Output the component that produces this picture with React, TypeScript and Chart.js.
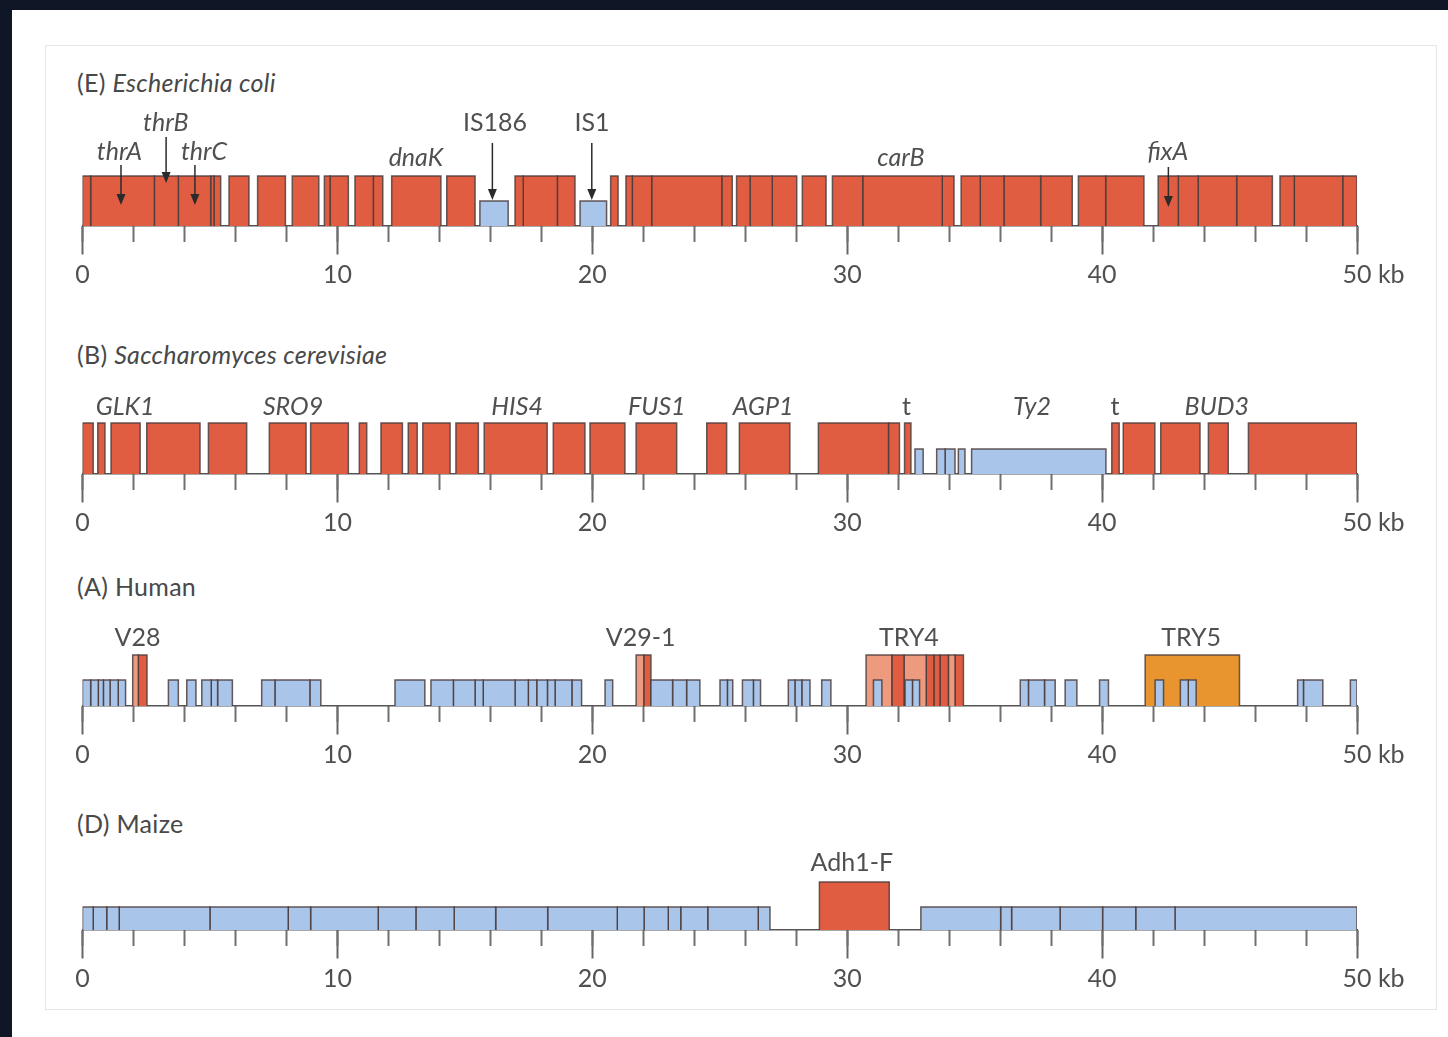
import React, { useEffect, useRef } from "react";
import { Chart, registerables } from "chart.js";

Chart.register(...registerables);

type Gene = [number, number, string];

// ---------------- data ----------------
const axisMin = 0;
const axisMax = 50;
const majorStep = 10;
const minorStep = 2;
const unitLabel = "kb";

// (E) Escherichia coli
const ecoliGenes: Gene[] = [
  [0, 0.32, "gene"], [0.32, 2.82, "gene"], [2.82, 3.76, "gene"], [3.76, 5.03, "gene"], [5.03, 5.16, "gene"], [5.16, 5.42, "gene"],
  [5.75, 6.53, "gene"],
  [6.87, 7.96, "gene"],
  [8.23, 9.27, "gene"],
  [9.49, 9.71, "gene"], [9.71, 10.43, "gene"],
  [10.69, 11.41, "gene"], [11.41, 11.78, "gene"],
  [12.13, 14.06, "gene"],
  [14.29, 15.4, "gene"],
  [15.59, 16.7, "repeat"],
  [16.97, 17.29, "gene"], [17.29, 18.63, "gene"], [18.63, 19.32, "gene"],
  [19.52, 20.56, "repeat"],
  [20.72, 21.01, "gene"],
  [21.32, 21.57, "gene"], [21.57, 22.33, "gene"], [22.33, 25.08, "gene"], [25.08, 25.49, "gene"],
  [25.66, 26.19, "gene"], [26.19, 27.06, "gene"], [27.06, 28.02, "gene"],
  [28.24, 29.17, "gene"],
  [29.42, 30.61, "gene"], [30.61, 33.73, "gene"], [33.73, 34.19, "gene"],
  [34.47, 35.22, "gene"], [35.22, 36.15, "gene"], [36.15, 37.59, "gene"], [37.59, 38.83, "gene"],
  [39.07, 40.14, "gene"], [40.14, 41.64, "gene"],
  [42.2, 42.99, "gene"], [42.99, 43.77, "gene"], [43.77, 45.28, "gene"], [45.28, 46.68, "gene"],
  [46.98, 47.54, "gene"], [47.54, 49.44, "gene"], [49.44, 50.0, "gene"],
];
const ecoliLabelText = ["thrA", "thrB", "thrC", "dnaK", "IS186", "IS1", "carB", "fixA"];
const ecoliLabelKb = [1.45, 3.27, 4.77, 13.08, 16.18, 19.99, 32.11, 42.58];
const ecoliLabelTier = [1, 2, 1, 0, 2, 2, 0, 1];
const ecoliLabelItalic = [true, true, true, true, false, false, true, true];
const ecoliArrowKb = [1.51, 3.28, 4.41, 16.08, 19.98, 42.6];

// (B) Saccharomyces cerevisiae
const yeastGenes: Gene[] = [
  [0, 0.42, "gene"], [0.6, 0.88, "gene"], [1.12, 2.26, "gene"], [2.52, 4.61, "gene"], [4.94, 6.44, "gene"],
  [7.33, 8.77, "gene"], [8.95, 10.43, "gene"], [10.86, 11.15, "gene"], [11.71, 12.55, "gene"], [12.78, 13.13, "gene"],
  [13.35, 14.42, "gene"], [14.65, 15.53, "gene"], [15.76, 18.23, "gene"], [18.47, 19.71, "gene"], [19.91, 21.28, "gene"],
  [21.72, 23.31, "gene"], [24.49, 25.27, "gene"], [25.77, 27.75, "gene"], [28.87, 31.62, "gene"], [31.62, 32.05, "gene"],
  [32.25, 32.5, "gene"],
  [32.66, 32.98, "repeat"], [33.51, 33.84, "repeat"], [33.84, 34.23, "repeat"], [34.36, 34.62, "repeat"], [34.88, 40.15, "repeat"],
  [40.38, 40.67, "gene"], [40.83, 42.07, "gene"], [42.3, 43.84, "gene"], [44.17, 44.95, "gene"], [45.74, 50.0, "gene"],
];
const yeastLabelText = ["GLK1", "SRO9", "HIS4", "FUS1", "AGP1", "t", "Ty2", "t", "BUD3"];
const yeastLabelKb = [1.67, 8.26, 17.05, 22.53, 26.7, 32.33, 37.25, 40.51, 44.5];
const yeastLabelTier = [0, 0, 0, 0, 0, 0, 0, 0, 0];
const yeastLabelItalic = [true, true, true, true, true, false, true, false, true];

// (A) Human
const humanGenes: Gene[] = [
  [0, 0.32, "repeat"], [0.32, 0.62, "repeat"], [0.62, 0.82, "repeat"], [0.82, 1.08, "repeat"], [1.08, 1.4, "repeat"], [1.4, 1.69, "repeat"],
  [1.97, 2.19, "pseudo"], [2.19, 2.53, "gene"],
  [3.37, 3.76, "repeat"], [4.09, 4.45, "repeat"], [4.68, 5.05, "repeat"], [5.05, 5.3, "repeat"], [5.3, 5.88, "repeat"],
  [7.03, 7.55, "repeat"], [7.55, 8.92, "repeat"], [8.92, 9.35, "repeat"],
  [12.26, 13.43, "repeat"],
  [13.67, 14.55, "repeat"], [14.55, 15.4, "repeat"], [15.4, 15.72, "repeat"], [15.72, 16.97, "repeat"], [16.97, 17.49, "repeat"],
  [17.49, 17.82, "repeat"], [17.82, 18.24, "repeat"], [18.24, 18.54, "repeat"], [18.54, 19.2, "repeat"], [19.2, 19.58, "repeat"],
  [20.5, 20.8, "repeat"],
  [21.72, 22.02, "pseudo"], [22.02, 22.3, "gene"],
  [22.3, 23.15, "repeat"], [23.15, 23.7, "repeat"], [23.7, 24.22, "repeat"],
  [25.01, 25.3, "repeat"], [25.3, 25.51, "repeat"], [25.89, 26.32, "repeat"], [26.32, 26.6, "repeat"],
  [27.69, 27.95, "repeat"], [27.95, 28.22, "repeat"], [28.22, 28.54, "repeat"], [29.0, 29.36, "repeat"],
  [30.74, 31.75, "pseudo"], [31.75, 32.23, "gene"], [32.23, 33.1, "pseudo"], [33.1, 33.4, "gene"], [33.4, 33.64, "gene"],
  [33.64, 33.97, "gene"], [33.97, 34.23, "pseudo"], [34.23, 34.56, "gene"],
  [31.03, 31.36, "repeat"], [32.27, 32.56, "repeat"], [32.56, 32.84, "repeat"],
  [36.79, 37.11, "repeat"], [37.11, 37.74, "repeat"], [37.74, 38.16, "repeat"], [38.55, 39.01, "repeat"], [39.9, 40.25, "repeat"],
  [41.69, 45.39, "trypsin"],
  [42.08, 42.41, "repeat"], [43.07, 43.38, "repeat"], [43.38, 43.69, "repeat"],
  [47.67, 47.9, "repeat"], [47.9, 48.66, "repeat"], [49.74, 50.0, "repeat"],
];
const humanLabelText = ["V28", "V29-1", "TRY4", "TRY5"];
const humanLabelKb = [2.16, 21.9, 32.42, 43.49];
const humanLabelTier = [0, 0, 0, 0];
const humanLabelItalic = [false, false, false, false];

// (D) Maize
const maizeGenes: Gene[] = [
  [0, 0.42, "repeat"], [0.42, 0.95, "repeat"], [0.95, 1.44, "repeat"], [1.44, 5.0, "repeat"], [5.0, 8.07, "repeat"],
  [8.07, 8.95, "repeat"], [8.95, 11.6, "repeat"], [11.6, 13.08, "repeat"], [13.08, 14.58, "repeat"], [14.58, 16.21, "repeat"],
  [16.21, 18.25, "repeat"], [18.25, 20.98, "repeat"], [20.98, 22.03, "repeat"], [22.03, 22.98, "repeat"], [22.98, 23.47, "repeat"],
  [23.47, 24.53, "repeat"], [24.53, 26.51, "repeat"], [26.51, 26.97, "repeat"],
  [28.91, 31.65, "gene"],
  [32.89, 36.02, "repeat"], [36.02, 36.45, "repeat"], [36.45, 38.35, "repeat"], [38.35, 40.02, "repeat"], [40.02, 41.32, "repeat"],
  [41.32, 42.86, "repeat"], [42.86, 50.0, "repeat"],
];
const maizeLabelText = ["Adh1-F"];
const maizeLabelKb = [30.18];
const maizeLabelTier = [0];
const maizeLabelItalic = [false];

// ---------------- styling / layout ----------------
const PAGE_W = 1448;
const PAGE_H = 1037;
const X0 = 82.5;
const X1 = 1357;
const TOP_SPACE = 130;
const BOTTOM_SPACE = 75;
const CANVAS_H = TOP_SPACE + BOTTOM_SPACE;
const FONT = "Lato, 'Open Sans', sans-serif";
const TEXT = "#505050";
const BORDER = "rgba(75,60,60,0.85)";
const FILLS: Record<string, string> = {
  gene: "#E15D42",
  pseudo: "#EE9A7E",
  trypsin: "#E9952F",
  repeat: "#A9C5EA",
};
const TALL = new Set(["gene", "pseudo", "trypsin"]);

type Track = {
  id: string;
  baseline: number;
  tall: number;
  short: number;
  genes: Gene[];
  labelText: string[];
  labelKb: number[];
  labelTier: number[];
  labelItalic: boolean[];
  tiers: number[];
  arrows?: { kb: number[]; from: number[]; to: number[] };
  title: [string, string];
  titleTop: number;
};

const tracks: Track[] = [
  {
    id: "E", baseline: 226, tall: 50, short: 25, genes: ecoliGenes,
    labelText: ecoliLabelText, labelKb: ecoliLabelKb, labelTier: ecoliLabelTier, labelItalic: ecoliLabelItalic,
    tiers: [68, 74, 103],
    arrows: { kb: ecoliArrowKb, from: [61, 89, 61, 83, 83, 59], to: [21, 43, 21, 26, 26, 19] },
    title: ["(E) ", "Escherichia coli"], titleTop: 67,
  },
  {
    id: "B", baseline: 474, tall: 51, short: 25, genes: yeastGenes,
    labelText: yeastLabelText, labelKb: yeastLabelKb, labelTier: yeastLabelTier, labelItalic: yeastLabelItalic,
    tiers: [67],
    title: ["(B) ", "Saccharomyces cerevisiae"], titleTop: 339,
  },
  {
    id: "A", baseline: 706, tall: 51, short: 26, genes: humanGenes,
    labelText: humanLabelText, labelKb: humanLabelKb, labelTier: humanLabelTier, labelItalic: humanLabelItalic,
    tiers: [68],
    title: ["(A) Human", ""], titleTop: 571,
  },
  {
    id: "D", baseline: 930, tall: 48, short: 23, genes: maizeGenes,
    labelText: maizeLabelText, labelKb: maizeLabelKb, labelTier: maizeLabelTier, labelItalic: maizeLabelItalic,
    tiers: [67],
    title: ["(D) Maize", ""], titleTop: 808,
  },
];

const TICK_LEN = 28;
const TICK_PAD = 6;
const TICK_FONT_SIZE = 25;
const LABEL_FONT_SIZE = 25;

function annotationPlugin(track: Track) {
  return {
    id: "annot" + track.id,
    afterDraw(chart: any) {
      const { ctx } = chart;
      const x = chart.scales.x;
      const y = chart.scales.y;
      ctx.save();
      ctx.fillStyle = TEXT;
      ctx.textAlign = "center";
      ctx.textBaseline = "middle";
      track.labelText.forEach((t, i) => {
        ctx.font = `${track.labelItalic[i] ? "italic " : ""}${LABEL_FONT_SIZE}px ${FONT}`;
        ctx.fillText(t, x.getPixelForValue(track.labelKb[i]), y.getPixelForValue(track.tiers[track.labelTier[i]]));
      });
      if (track.arrows) {
        const a = track.arrows;
        ctx.strokeStyle = "#2b2b2b";
        ctx.fillStyle = "#2b2b2b";
        ctx.lineWidth = 1.5;
        a.kb.forEach((kb, i) => {
          const px = x.getPixelForValue(kb);
          const y1 = y.getPixelForValue(a.from[i]);
          const y2 = y.getPixelForValue(a.to[i]);
          ctx.beginPath();
          ctx.moveTo(px, y1);
          ctx.lineTo(px, y2 - 8);
          ctx.stroke();
          ctx.beginPath();
          ctx.moveTo(px - 4.5, y2 - 11);
          ctx.lineTo(px + 4.5, y2 - 11);
          ctx.lineTo(px, y2);
          ctx.closePath();
          ctx.fill();
        });
      }
      // unit after the last tick label
      ctx.font = `${TICK_FONT_SIZE}px ${FONT}`;
      ctx.fillStyle = TEXT;
      ctx.textAlign = "left";
      const base = y.getPixelForValue(0);
      const lx = x.getPixelForValue(axisMax) + ctx.measureText(String(axisMax)).width / 2 + ctx.measureText(" ").width;
      ctx.fillText(unitLabel, lx, base + TICK_LEN + TICK_PAD + (TICK_FONT_SIZE * 1.2) / 2);
      ctx.restore();
    },
  };
}

function buildConfig(track: Track): any {
  const datasets = track.genes.map(([s, e, kind]) => {
    const tall = TALL.has(kind);
    const h = tall ? track.tall : track.short;
    return {
      type: "line",
      data: [
        { x: s, y: 0 },
        { x: s, y: h },
        { x: e, y: h },
        { x: e, y: 0 },
      ],
      xAxisID: "x",
      yAxisID: "y",
      borderColor: BORDER,
      borderWidth: 1.5,
      borderJoinStyle: "miter",
      backgroundColor: FILLS[kind],
      fill: "origin",
      pointRadius: 0,
      pointHoverRadius: 0,
      tension: 0,
      order: tall ? 1 : 0,
    };
  });
  return {
    type: "line",
    data: { datasets },
    options: {
      responsive: false,
      maintainAspectRatio: false,
      animation: false,
      events: [],
      layout: { padding: { left: X0, right: PAGE_W - X1, top: 0, bottom: BOTTOM_SPACE } },
      plugins: { legend: { display: false }, tooltip: { enabled: false }, title: { display: false } },
      scales: {
        y: { type: "linear", display: false, min: 0, max: TOP_SPACE },
        x: {
          type: "linear",
          axis: "x",
          min: axisMin,
          max: axisMax,
          position: { y: 0 },
          z: 2,
          border: { display: true, color: "#555", width: 1.5 },
          grid: { drawOnChartArea: false, drawTicks: true, tickLength: TICK_LEN, tickWidth: 2, tickColor: "#666" },
          ticks: {
            stepSize: majorStep,
            autoSkip: false,
            maxRotation: 0,
            padding: TICK_PAD,
            color: TEXT,
            font: { family: FONT, size: TICK_FONT_SIZE },
            callback: (v: number) => String(v),
          },
        },
        xm: {
          type: "linear",
          axis: "x",
          min: axisMin,
          max: axisMax,
          position: { y: 0 },
          z: 1,
          border: { display: false },
          grid: { drawOnChartArea: false, drawTicks: true, tickLength: 16, tickWidth: 2, tickColor: "#707070" },
          ticks: { stepSize: minorStep, autoSkip: false, maxRotation: 0, callback: () => "" },
        },
      },
    },
    plugins: [annotationPlugin(track)],
  };
}

function TrackChart({ track }: { track: Track }) {
  const ref = useRef<HTMLCanvasElement>(null);
  useEffect(() => {
    if (!ref.current) return;
    const chart = new Chart(ref.current, buildConfig(track));
    return () => chart.destroy();
  }, [track]);
  return (
    <canvas
      ref={ref}
      width={PAGE_W}
      height={CANVAS_H}
      style={{ position: "absolute", left: 0, top: track.baseline - TOP_SPACE, width: PAGE_W, height: CANVAS_H }}
    />
  );
}

export default function App() {
  return (
    <div style={{ position: "absolute", left: 0, top: 0, width: PAGE_W, height: PAGE_H, overflow: "hidden", background: "#0f1626" }}>
      <div style={{ position: "absolute", left: 12, top: 10, width: PAGE_W - 12, height: PAGE_H - 10, background: "#ffffff" }} />
      <div style={{ position: "absolute", left: 45, top: 45, width: 1437 - 45, height: 1010 - 45, border: "1px solid #e6e6e6", boxSizing: "border-box" }} />
      {tracks.map((t) => (
        <div
          key={"title" + t.id}
          style={{ position: "absolute", left: 77, top: t.titleTop, font: `25px ${FONT}`, lineHeight: "30px", color: "#484848", whiteSpace: "nowrap", letterSpacing: "0.3px" }}
        >
          {t.title[0]}
          {t.title[1] ? <i>{t.title[1]}</i> : null}
        </div>
      ))}
      {tracks.map((t) => (
        <TrackChart key={t.id} track={t} />
      ))}
    </div>
  );
}
